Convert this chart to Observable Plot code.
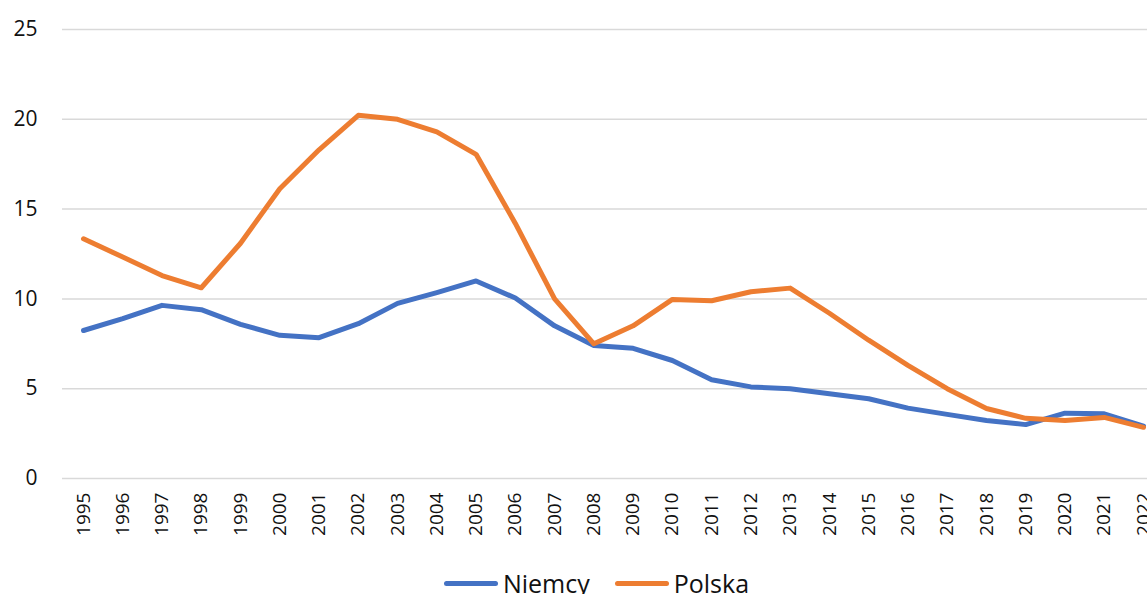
<!DOCTYPE html>
<html>
<head>
<meta charset="utf-8">
<script src="https://cdn.jsdelivr.net/npm/d3@7"></script>
<script src="https://cdn.jsdelivr.net/npm/@observablehq/plot@0.6"></script>
<style>
  html, body { margin: 0; padding: 0; background: #fff; overflow: hidden; }
  #chart svg { display: block; }
  #chart svg g[aria-label="y-axis tick label"] text { font-size: 21px !important; }
  #chart svg g[aria-label="x-axis tick label"] text { font-size: 19px !important; }
  .legend { display: flex; justify-content: center; align-items: center; height: 66px; gap: 25px;
            font-family: "Open Sans", sans-serif; font-size: 25px; color: #111; padding-left: 46px; }
  .legend .item { display: flex; align-items: center; gap: 5px; }
  .legend .sw { display: inline-block; width: 54px; height: 5px; border-radius: 3px; }
</style>
</head>
<body>
<div id="chart"></div>
<script>
const years = [1995,1996,1997,1998,1999,2000,2001,2002,2003,2004,2005,2006,2007,2008,2009,2010,2011,2012,2013,2014,2015,2016,2017,2018,2019,2020,2021,2022];
const niemcy = [8.24,8.9,9.64,9.4,8.58,7.97,7.84,8.62,9.75,10.35,11.0,10.05,8.5,7.4,7.25,6.57,5.5,5.1,5.0,4.72,4.44,3.92,3.57,3.23,3.0,3.64,3.6,2.92];
const polska = [13.35,12.33,11.3,10.62,13.1,16.13,18.3,20.22,20.0,19.3,18.05,14.2,10.0,7.5,8.5,9.97,9.9,10.4,10.6,9.2,7.7,6.3,5.0,3.9,3.35,3.23,3.4,2.85];
const seriesNames = ["Niemcy", "Polska"];
const seriesColors = ["#4472C4", "#ED7D31"];
const yTicks = [0,5,10,15,20,25];

const data = [];
years.forEach((y, i) => {
  data.push({year: y, value: niemcy[i], series: "Niemcy"});
  data.push({year: y, value: polska[i], series: "Polska"});
});

const chart = Plot.plot({
  width: 1147,
  height: 550,
  marginTop: 29,
  marginBottom: 72,
  marginLeft: 62,
  marginRight: 0,
  insetLeft: 21,
  insetRight: 4,
  style: {fontFamily: "Open Sans, sans-serif", color: "#111", background: "#fff"},
  x: {domain: [1995, 2022], label: null},
  y: {domain: [0, 25], label: null},
  color: {domain: seriesNames, range: seriesColors},
  marks: [
    Plot.gridY(yTicks, {stroke: "#d9d9d9", strokeOpacity: 1, strokeWidth: 1.5}),
    Plot.axisY(yTicks, {tickSize: 0, tickPadding: 25, fontSize: 21, label: null, tickFormat: d => String(d)}),
    Plot.axisX(years, {tickSize: 0, tickPadding: 14, tickRotate: -90, fontSize: 19, label: null, tickFormat: d => String(d)}),
    Plot.line(data, {x: "year", y: "value", z: "series", stroke: "series", strokeWidth: 5, strokeLinejoin: "round", strokeLinecap: "round"})
  ]
});
document.getElementById("chart").appendChild(chart);

const legend = document.createElement("div");
legend.className = "legend";
seriesNames.forEach((n, i) => {
  const item = document.createElement("span");
  item.className = "item";
  const sw = document.createElement("span");
  sw.className = "sw";
  sw.style.background = seriesColors[i];
  const t = document.createElement("span");
  t.textContent = n;
  item.appendChild(sw);
  item.appendChild(t);
  legend.appendChild(item);
});
document.body.appendChild(legend);
</script>
</body>
</html>
